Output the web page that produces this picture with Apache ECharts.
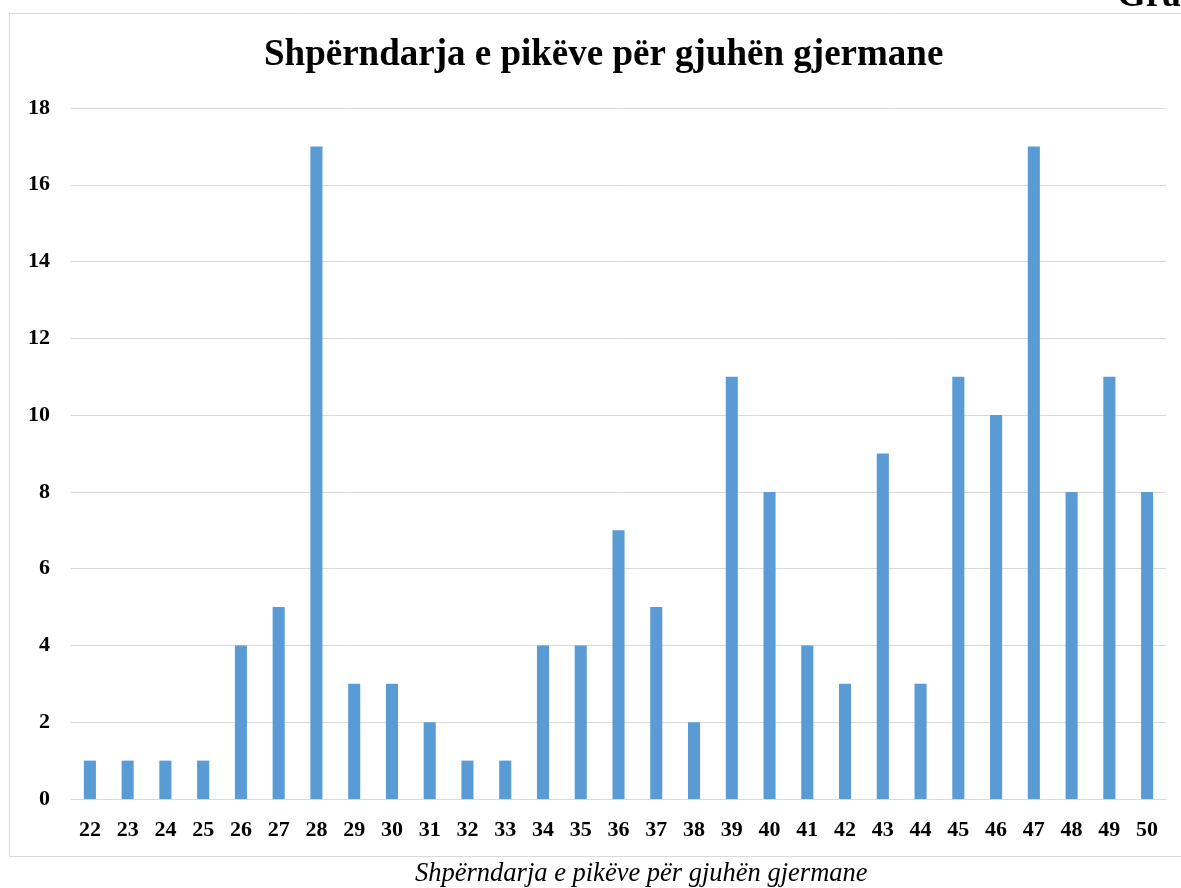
<!DOCTYPE html>
<html>
<head>
<meta charset="utf-8">
<script src="https://cdn.jsdelivr.net/npm/echarts@6/dist/echarts.min.js"></script>
<style>
  html, body { margin: 0; padding: 0; background: #fff; }
  #main { width: 1181px; height: 888px; }
</style>
</head>
<body>
<div id="main"></div>
<script>
// pikët (kategoritë) dhe numri i nxënësve
const categories = ['22','23','24','25','26','27','28','29','30','31','32','33','34','35','36','37','38','39','40','41','42','43','44','45','46','47','48','49','50'];
const counts = [1, 1, 1, 1, 4, 5, 17, 3, 3, 2, 1, 1, 4, 4, 7, 5, 2, 11, 8, 4, 3, 9, 3, 11, 10, 17, 8, 11, 8];
const yTicks = [0, 2, 4, 6, 8, 10, 12, 14, 16, 18];

const chart = echarts.init(document.getElementById('main'));
const serif = '"Liberation Serif", "DejaVu Serif", serif';

chart.setOption({
  animation: false,
  backgroundColor: '#fff',
  title: {
    text: 'Shpërndarja e pikëve për gjuhën gjermane',
    left: 259,
    top: 32,
    textStyle: { fontFamily: serif, fontWeight: 'bold', fontSize: 37, color: '#000' },
  },
  grid: { left: 71, right: 15, top: 108, bottom: 89 },
  xAxis: {
    type: 'category',
    data: categories,
    axisTick: { show: false },
    axisLine: { lineStyle: { color: '#d9d9d9', width: 1 } },
    axisLabel: { color: '#000', fontFamily: serif, fontWeight: 'bold', fontSize: 22, margin: 20 },
  },
  yAxis: {
    type: 'value',
    min: yTicks[0],
    max: yTicks[yTicks.length - 1],
    interval: 2,
    axisLine: { show: false },
    axisTick: { show: false },
    splitLine: { lineStyle: { color: '#d9d9d9', width: 1 } },
    axisLabel: { color: '#000', fontFamily: serif, fontWeight: 'bold', fontSize: 22, margin: 21 },
  },
  series: [{
    type: 'bar',
    data: counts,
    barWidth: '32%',
    itemStyle: { color: '#5b9bd5' },
  }],
  graphic: [
    {
      type: 'rect',
      shape: { x: 9.5, y: 13.5, width: 1190, height: 843 },
      style: { fill: 'none', stroke: '#d9d9d9', lineWidth: 1 },
      z: -1,
    },
    {
      type: 'text',
      style: { text: 'Grafiku', x: 1117, y: 15, verticalAlign: 'bottom', fontFamily: serif, fontWeight: 'bold', fontSize: 37, fill: '#000' },
    },
    {
      type: 'text',
      style: { text: 'Shpërndarja e pikëve për gjuhën gjermane', x: 415, y: 861, fontFamily: serif, fontStyle: 'italic', fontSize: 26.5, fill: '#000' },
    },
  ],
});
window.onresize = function () {
  chart.resize();
};
</script>
</body>
</html>
